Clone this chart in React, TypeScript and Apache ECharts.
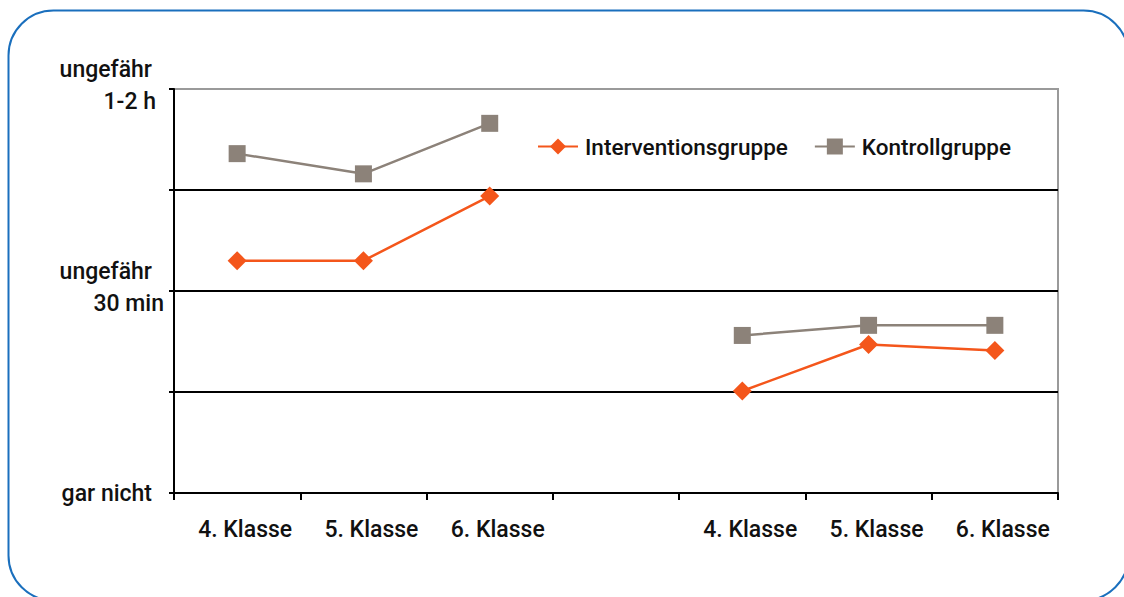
import React, { useEffect, useRef } from "react";
import * as echarts from "echarts";

// Category labels: two groups of school years separated by an empty slot
const categories = ["4. Klasse", "5. Klasse", "6. Klasse", "", "4. Klasse", "5. Klasse", "6. Klasse"];

// Answers on an ordinal scale: 0 = gar nicht, 2 = ungefähr 30 min, 4 = ungefähr 1-2 h
const interventionsgruppe = [2.3, 2.3, 2.94, null, 1.01, 1.47, 1.41];
const kontrollgruppe = [3.36, 3.16, 3.66, null, 1.56, 1.66, 1.66];

const yTickLabels: Record<number, string> = {
  0: "{g|gar nicht}",
  2: "{u|ungefähr}\n{m|30 min}",
  4: "{u|ungefähr}\n{h|1-2 h}",
};

const FONT = "Roboto, 'Liberation Sans', sans-serif";

export default function App() {
  const ref = useRef<HTMLDivElement>(null);

  useEffect(() => {
    if (!ref.current) return;
    const chart = echarts.init(ref.current, undefined, { renderer: "svg" });
    const labelBase = { fontFamily: FONT, fontSize: 23, fontWeight: 500, color: "#111" };
    chart.setOption({
      animation: false,
      backgroundColor: "#fff",
      grid: {
        left: 174,
        right: 66,
        top: 89,
        bottom: 104,
        show: true,
        borderColor: "#9a9a9a",
        borderWidth: 2,
      },
      legend: {
        left: 537,
        top: 135,
        padding: 0,
        itemWidth: 40,
        itemHeight: 20,
        itemGap: 26,
        textStyle: { ...labelBase, fontSize: 22.5, padding: [0, 0, 0, 2] },
        data: ["Interventionsgruppe", "Kontrollgruppe"],
      },
      xAxis: {
        type: "category",
        data: categories,
        boundaryGap: true,
        axisLine: { lineStyle: { color: "#000", width: 2 } },
        axisTick: { show: true, length: 7, lineStyle: { color: "#000", width: 2 } },
        axisLabel: { ...labelBase, margin: 25, padding: [0, 0, 0, 16], interval: 0 },
        splitLine: { show: false },
      },
      yAxis: {
        type: "value",
        min: 0,
        max: 4,
        interval: 1,
        axisLine: { show: true, lineStyle: { color: "#000", width: 2 } },
        axisTick: { show: true, length: 5, lineStyle: { color: "#000", width: 2 } },
        splitLine: {
          show: true,
          showMinLine: false,
          showMaxLine: false,
          lineStyle: { color: "#000", width: 2 },
        },
        axisLabel: {
          ...labelBase,
          margin: 10,
          align: "right",
          formatter: (v: number) => yTickLabels[v] ?? "",
          rich: {
            u: { ...labelBase, lineHeight: 24, padding: [0, 12, 0, 0] },
            h: { ...labelBase, lineHeight: 40, padding: [0, 8, 0, 0] },
            m: { ...labelBase, lineHeight: 40, padding: [0, 0, 0, 0] },
            g: { ...labelBase, lineHeight: 34, padding: [0, 12, 0, 0] },
          },
        },
      },
      series: [
        {
          name: "Interventionsgruppe",
          type: "line",
          data: interventionsgruppe,
          connectNulls: false,
          symbol: "diamond",
          symbolSize: 19,
          color: "#f4561b",
          lineStyle: { width: 2.5, color: "#f4561b" },
          itemStyle: { color: "#f4561b" },
          z: 3,
        },
        {
          name: "Kontrollgruppe",
          type: "line",
          data: kontrollgruppe,
          connectNulls: false,
          symbol: "rect",
          symbolSize: 17,
          color: "#8c8279",
          lineStyle: { width: 2.5, color: "#8c8279" },
          itemStyle: { color: "#8c8279" },
          z: 3,
        },
      ],
      graphic: [
        {
          type: "rect",
          left: 6,
          top: 8,
          shape: { width: 1120, height: 590, r: 45 },
          style: { fill: "none", stroke: "#1a6fbd", lineWidth: 2 },
          silent: true,
          z: 100,
        },
      ],
    });
    return () => chart.dispose();
  }, []);

  return (
    <div
      ref={ref}
      style={{ position: "absolute", left: 0, top: 0, width: 1124, height: 597 }}
    />
  );
}
